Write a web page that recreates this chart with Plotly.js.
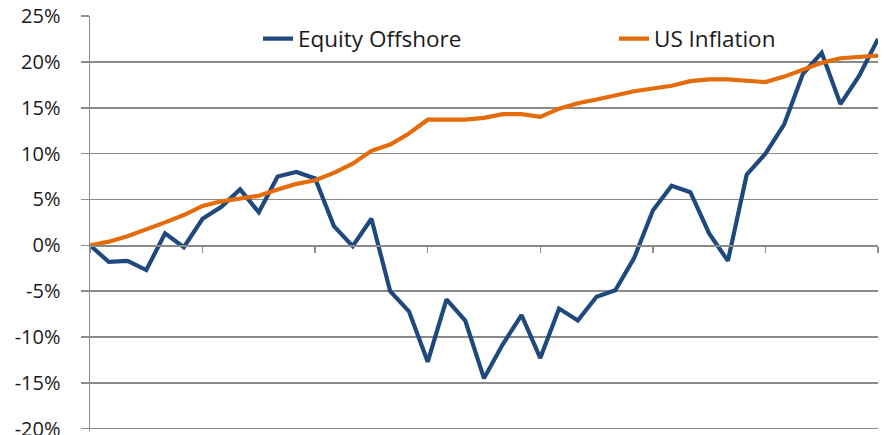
<!DOCTYPE html>
<html>
<head>
<meta charset="utf-8">
<script src="https://cdn.plot.ly/plotly-3.0.1.min.js"></script>
<style>
html,body{margin:0;padding:0;background:#fff;}
#chart{width:889px;height:435px;}
</style>
</head>
<body>
<div id="chart"></div>
<script>
// Period index (no labels shown on the x axis)
const periods = Array.from({length: 43}, (_, i) => i);

// Cumulative returns, %
const equityOffshore = [
  0.0, -1.8, -1.7, -2.7, 1.3, -0.2, 2.9, 4.2, 6.1, 3.6,
  7.5, 8.0, 7.3, 2.1, -0.1, 2.9, -5.0, -7.2, -12.7, -5.9,
  -8.2, -14.5, -10.8, -7.6, -12.3, -6.9, -8.2, -5.6, -4.9, -1.4,
  3.8, 6.5, 5.8, 1.3, -1.7, 7.7, 10.0, 13.2, 18.7, 21.0,
  15.4, 18.5, 22.5
];
const usInflation = [
  0.0, 0.4, 1.0, 1.7, 2.5, 3.3, 4.3, 4.8, 5.1, 5.4,
  6.1, 6.7, 7.1, 7.9, 8.9, 10.3, 11.0, 12.2, 13.7, 13.7,
  13.7, 13.9, 14.3, 14.3, 14.0, 14.9, 15.5, 15.9, 16.4, 16.8,
  17.1, 17.4, 17.9, 18.1, 18.1, 17.9, 17.8, 18.4, 19.2, 19.9,
  20.4, 20.6, 20.7
];

const seriesNames = ["Equity Offshore", "US Inflation"];
const yTickVals = [-20, -15, -10, -5, 0, 5, 10, 15, 20, 25];
const yTickText = ["-20%", "-15%", "-10%", "-5%", "0%", "5%", "10%", "15%", "20%", "25%"];

const FONT = "Open Sans, Noto Sans, sans-serif";
const GRID = "#8a8a8a";

const traces = [
  {
    x: periods, y: equityOffshore, name: seriesNames[0], type: "scatter", mode: "lines",
    line: {color: "#1f497d", width: 4.2}, legend: "legend"
  },
  {
    x: periods, y: usInflation, name: seriesNames[1], type: "scatter", mode: "lines",
    line: {color: "#e46c0a", width: 4.2}, legend: "legend2"
  }
];

const yMin = -20.25, yMax = 25.01;
const layout = {
  width: 889, height: 435,
  margin: {l: 90, r: 11, t: 16, b: 4, pad: 0},
  paper_bgcolor: "#ffffff", plot_bgcolor: "#ffffff",
  font: {family: FONT, size: 20, color: "#1a1a1a"},
  showlegend: true,
  xaxis: {
    range: [0, 42], tick0: 0, dtick: 6,
    showgrid: false, zeroline: false,
    showline: true, linecolor: GRID, linewidth: 1.5,
    ticks: "outside", ticklen: 6, tickwidth: 1.5, tickcolor: GRID,
    showticklabels: false,
    anchor: "free", position: (0 - yMin) / (yMax - yMin)
  },
  yaxis: {
    range: [yMin, yMax],
    tickvals: yTickVals, ticktext: yTickText,
    showgrid: true, gridcolor: GRID, gridwidth: 1.5,
    zeroline: false,
    showline: true, linecolor: GRID, linewidth: 1.5,
    ticks: "outside", ticklen: 8, tickwidth: 1.5, tickcolor: GRID,
    ticklabelstandoff: 16,
    ticklabeloverflow: "allow",
    tickfont: {family: FONT, size: 20, color: "#1a1a1a"}
  },
  legend: {
    x: (258 - 90) / 788, xanchor: "left",
    y: 1 - (39 - 16) / 415, yanchor: "middle",
    bgcolor: "rgba(0,0,0,0)", borderwidth: 0,
    font: {family: FONT, size: 22.5, color: "#1a1a1a"}
  },
  legend2: {
    x: (614 - 90) / 788, xanchor: "left",
    y: 1 - (39 - 16) / 415, yanchor: "middle",
    bgcolor: "rgba(0,0,0,0)", borderwidth: 0,
    font: {family: FONT, size: 22.5, color: "#1a1a1a"}
  }
};

Plotly.newPlot("chart", traces, layout, {displayModeBar: false, staticPlot: true});
</script>
</body>
</html>
